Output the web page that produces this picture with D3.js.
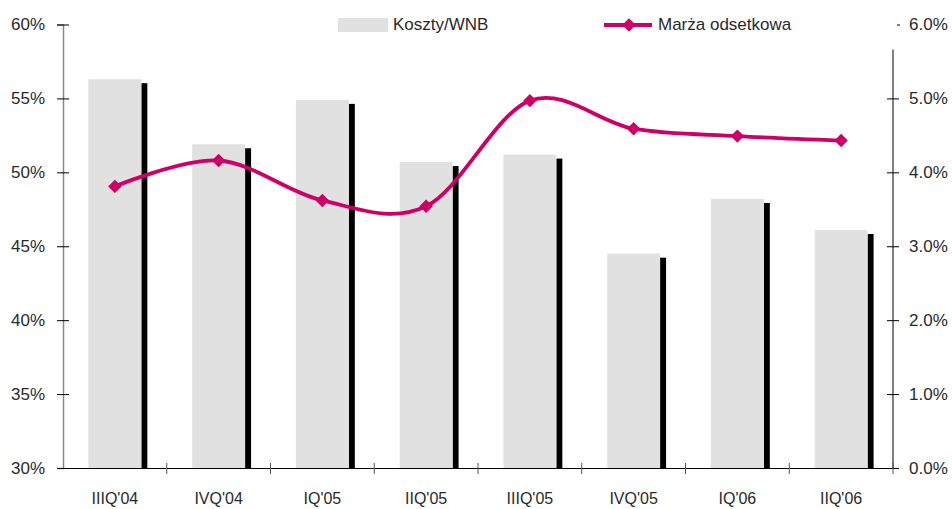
<!DOCTYPE html>
<html>
<head>
<meta charset="utf-8">
<script src="https://cdn.jsdelivr.net/npm/d3@7"></script>
<style>
  body { margin: 0; background: #fff; }
  svg { display: block; font-family: 'Liberation Sans', Arial, sans-serif; }
  .axis text { font-size: 17px; fill: #2a2a2a; }
  .axis .xlabel { font-size: 16px; }
</style>
</head>
<body>
<div id="chart"></div>
<script>
const quarters = ["IIIQ'04", "IVQ'04", "IQ'05", "IIQ'05", "IIIQ'05", "IVQ'05", "IQ'06", "IIQ'06"];
const costIncome = [56.3, 51.9, 54.9, 50.7, 51.2, 44.5, 48.2, 46.1];   // Koszty/WNB, %
const interestMargin = [3.81, 4.16, 3.62, 3.54, 4.97, 4.59, 4.49, 4.43]; // Marża odsetkowa, %
const leftTicks = [30, 35, 40, 45, 50, 55, 60];
const rightTicks = [0, 1, 2, 3, 4, 5, 6];

const width = 952;
const height = 509;
const margin = { top: 24.5, right: 59, bottom: 41, left: 63 };
const magenta = '#cc0066';

const svg = d3.select('#chart')
  .append('svg')
    .attr('width', width)
    .attr('height', height);

const x = d3.scaleBand()
  .domain(quarters)
  .range([margin.left, width - margin.right])
  .padding(0);

const yLeft = d3.scaleLinear()
  .domain([30, 60])
  .range([height - margin.bottom, margin.top]);

const yRight = d3.scaleLinear()
  .domain([0, 6])
  .range([height - margin.bottom, margin.top]);

const barW = x.bandwidth() * 0.51;

// bars with black shadow on the right
const bars = svg.append('g');
bars.selectAll('.shadow')
  .data(costIncome)
  .join('rect')
    .attr('class', 'shadow')
    .attr('x', (d, i) => x(quarters[i]) + (x.bandwidth() + barW) / 2)
    .attr('y', d => yLeft(d) + 4)
    .attr('width', 6)
    .attr('height', d => yLeft(30) - yLeft(d) - 4)
    .attr('fill', '#000');
bars.selectAll('.bar')
  .data(costIncome)
  .join('rect')
    .attr('class', 'bar')
    .attr('x', (d, i) => x(quarters[i]) + (x.bandwidth() - barW) / 2)
    .attr('y', d => yLeft(d))
    .attr('width', barW)
    .attr('height', d => yLeft(30) - yLeft(d))
    .attr('fill', '#e1e1e1');

// left axis
const axL = svg.append('g')
  .attr('class', 'axis')
  .attr('transform', `translate(${margin.left},0)`)
  .call(d3.axisLeft(yLeft).tickValues(leftTicks).tickFormat(d => d + '%').tickSize(6).tickPadding(12));
axL.select('.domain').attr('stroke', '#888').attr('stroke-width', 1.5);
axL.selectAll('.tick line').attr('x1', 6).attr('stroke', '#000');

// right axis
const axR = svg.append('g')
  .attr('class', 'axis')
  .attr('transform', `translate(${width - margin.right},0)`)
  .call(d3.axisRight(yRight).tickValues(rightTicks).tickFormat(d => d.toFixed(1) + '%').tickSize(6).tickPadding(10));
axR.select('.domain').remove();
axR.append('line')
  .attr('y1', yRight(0))
  .attr('y2', yRight(6) + 25)
  .attr('stroke', '#000');
axR.selectAll('.tick line')
  .attr('x1', d => d === 6 ? 4 : -6)
  .attr('x2', d => d === 6 ? 7 : 6)
  .attr('stroke', '#000');

// x axis
const axX = svg.append('g')
  .attr('class', 'axis');
axX.append('line')
  .attr('x1', margin.left)
  .attr('x2', width - margin.right)
  .attr('y1', yLeft(30) + 0.5)
  .attr('y2', yLeft(30) + 0.5)
  .attr('stroke', '#000');
axX.selectAll('.xtick')
  .data(quarters.concat(['end']))
  .join('line')
    .attr('class', 'xtick')
    .attr('x1', (d, i) => margin.left + i * x.step())
    .attr('x2', (d, i) => margin.left + i * x.step())
    .attr('y1', yLeft(30) - 5)
    .attr('y2', yLeft(30) + 6)
    .attr('stroke', (d, i) => i === 0 ? 'none' : '#555');
axX.selectAll('.xlabel')
  .data(quarters)
  .join('text')
    .attr('class', 'xlabel')
    .attr('x', d => x(d) + x.bandwidth() / 2)
    .attr('y', 504)
    .attr('text-anchor', 'middle')
    .text(d => d);

// smoothed line for margin
const line = d3.line()
  .x((d, i) => x(quarters[i]) + x.bandwidth() / 2)
  .y(d => yRight(d))
  .curve(d3.curveCatmullRom.alpha(0));

svg.append('path')
  .datum(interestMargin)
  .attr('d', line)
  .attr('fill', 'none')
  .attr('stroke', magenta)
  .attr('stroke-width', 3.8);

const diamond = d3.symbol().type(d3.symbolDiamond2).size(115);
svg.selectAll('.marker')
  .data(interestMargin)
  .join('path')
    .attr('class', 'marker')
    .attr('d', diamond)
    .attr('transform', (d, i) => `translate(${x(quarters[i]) + x.bandwidth() / 2},${yRight(d)})`)
    .attr('fill', magenta);

// legend
const legend = svg.append('g').attr('class', 'axis');
legend.append('rect')
  .attr('x', 338).attr('y', 18)
  .attr('width', 50).attr('height', 14)
  .attr('fill', '#e1e1e1');
legend.append('text')
  .attr('x', 393).attr('y', 30)
  .text('Koszty/WNB');
legend.append('line')
  .attr('x1', 604).attr('x2', 652)
  .attr('y1', 25).attr('y2', 25)
  .attr('stroke', magenta)
  .attr('stroke-width', 3.8);
legend.append('path')
  .attr('d', diamond)
  .attr('transform', 'translate(629,25)')
  .attr('fill', magenta);
legend.append('text')
  .attr('x', 658).attr('y', 30)
  .text('Marża odsetkowa');
</script>
</body>
</html>
